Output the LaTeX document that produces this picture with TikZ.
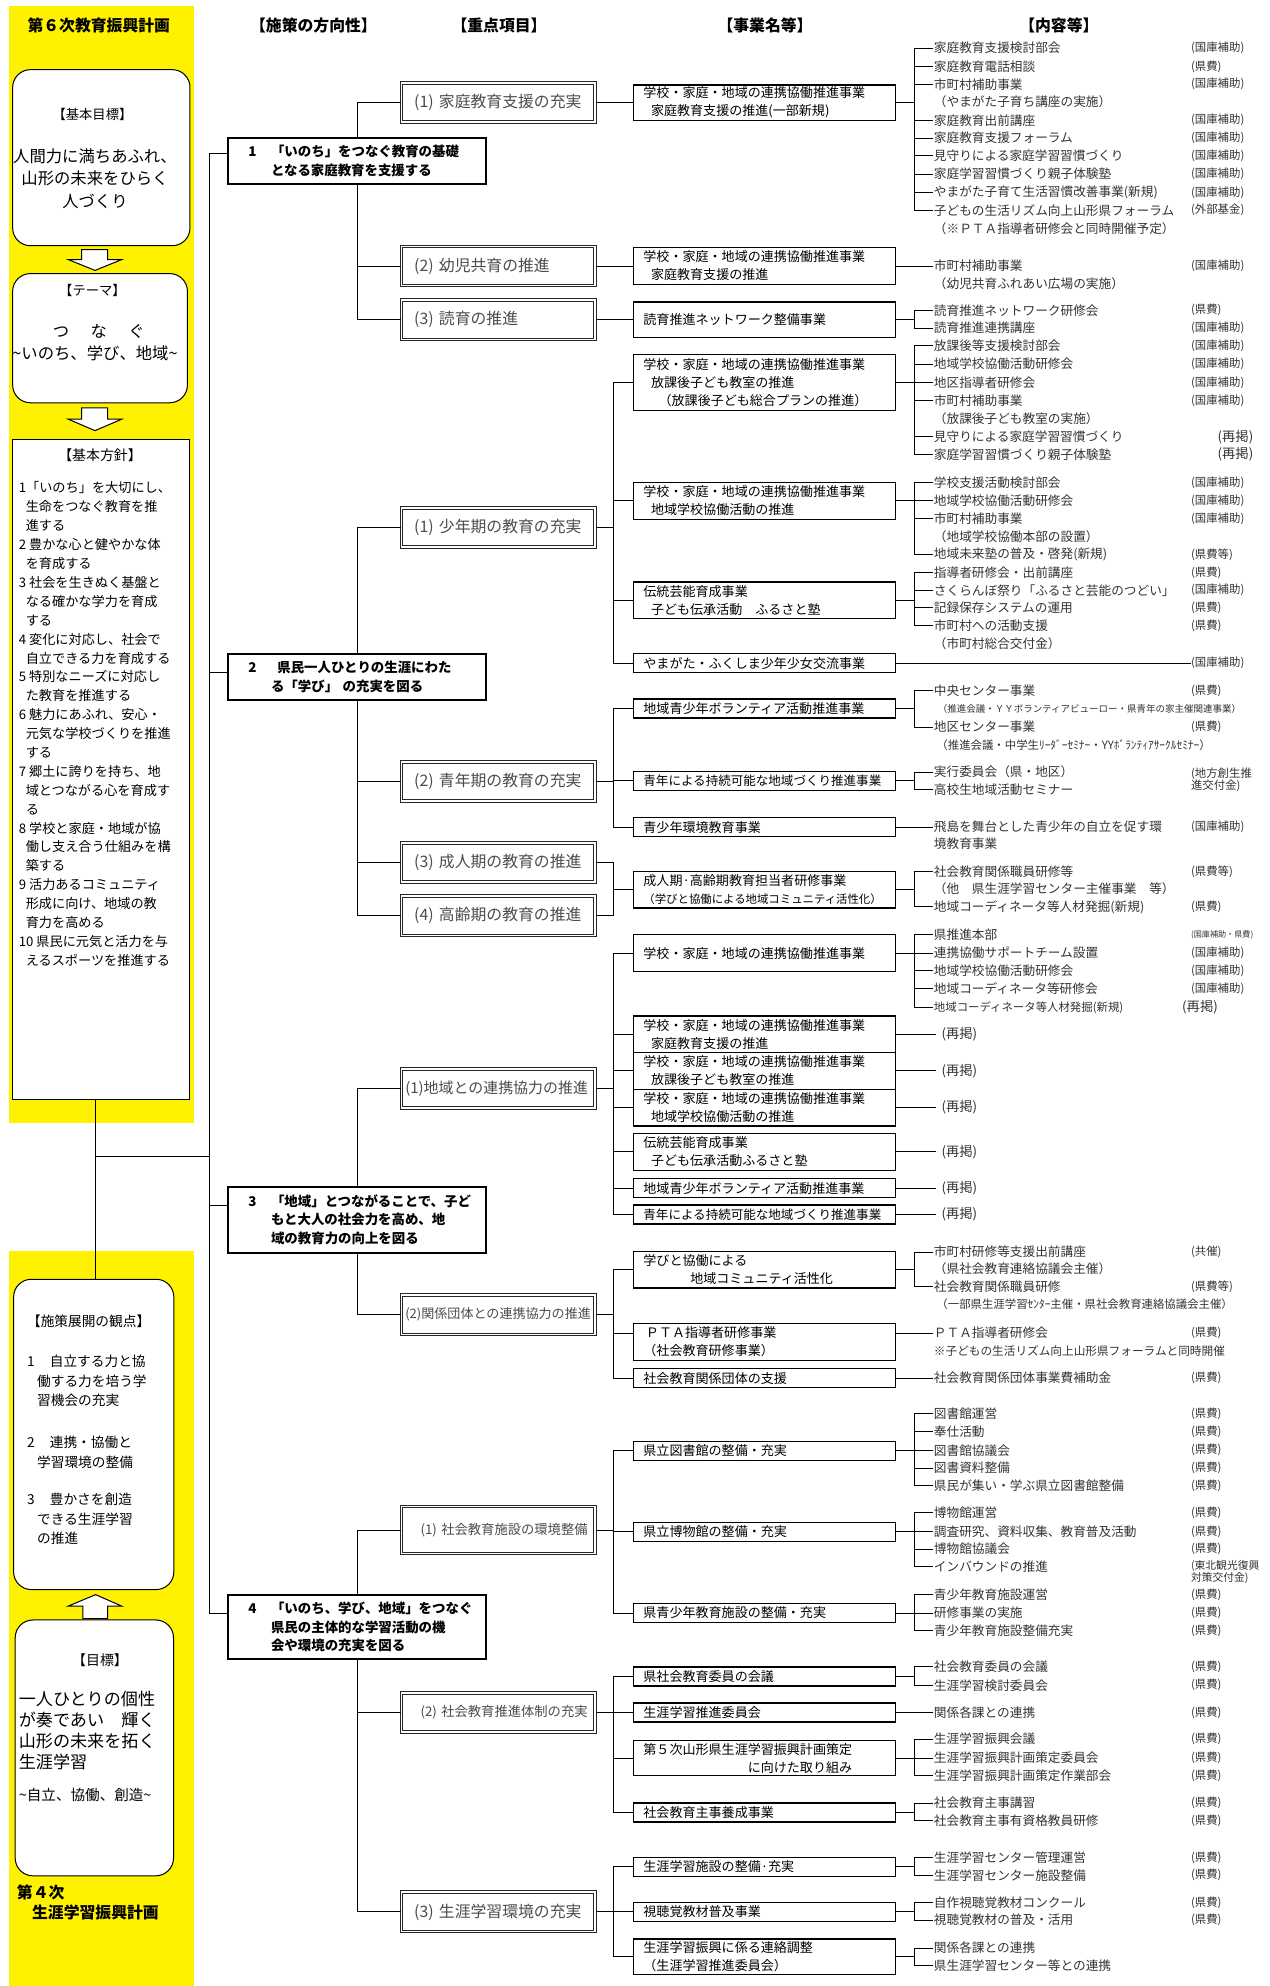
\documentclass[tikz,border=0pt]{standalone}
\usepackage{fontspec}
\setmainfont{Noto Sans CJK JP}

\begin{document}
\begin{tikzpicture}[x=1pt,y=-1pt,line width=0.75pt,
    every node/.style={inner sep=0pt},
    head/.style={font=\fontsize{12.5}{14}\selectfont\bfseries},
    panel/.style={draw,line width=0.8pt,fill=white},
    arrowbox/.style={draw,line width=0.8pt,fill=white},
    dirbox/.style={draw,line width=1.6pt,fill=white,minimum width=204pt,
      text width=172pt,inner xsep=16pt,align=left,
      font=\fontsize{10.6}{14.5}\selectfont\bfseries},
    pribox/.style={draw=black!85,line width=0.8pt,double=white,
      double distance=1.3pt,fill=white,minimum width=153pt,minimum height=31pt,
      text width=133pt,inner xsep=10pt,align=left,text=black!70,
      font=\fontsize{12.5}{14}\selectfont},
    evbox/.style={draw,line width=1.1pt,fill=white,minimum width=207pt,
      minimum height=15pt,text width=191pt,inner xsep=8pt,align=left,
      font=\fontsize{10.3}{14.2}\selectfont},
    item/.style={anchor=west,text=black!80,font=\fontsize{10}{12}\selectfont},
    fund/.style={anchor=west,text=black!80,align=left,
      font=\fontsize{9}{9.5}\selectfont},
  ]
  \useasboundingbox (0,0) rectangle (1002,1568);
  \fill[yellow] (7,5) rectangle (153,887);
  \fill[yellow] (7,988) rectangle (153,1568);
  %
  \node[head] (h1) at (247.5,20) {【施策の方向性】};
  \node[head] (h2) at (394,20) {【重点項目】};
  \node[head] (h3) at (604,20) {【事業名等】};
  \node[head] (h4) at (836,20) {【内容等】};
  %
  % left column
  \node[head] (k6) at (78,20) {第６次教育振興計画};
  \node[panel,rounded corners=14pt,minimum width=140pt,minimum height=139pt] (g1) at (80,124.5) {};
  \node[font=\fontsize{10.5}{12}\selectfont] (g1a) at (73,90) {【基本目標】};
  \node[align=center,font=\fontsize{12.9}{18}\selectfont] (g1b) at (75,141) {人間力に満ちあふれ、\\山形の未来をひらく\\人づくり};
  \draw[arrowbox] (64.5,197) -- (85,197) -- (85,205) -- (96,205) -- (75,213.5) -- (54,205) -- (64.5,205) -- cycle;
  \node[panel,rounded corners=14pt,minimum width=138pt,minimum height=102pt] (g2) at (79,267) {};
  \node[font=\fontsize{10.5}{12}\selectfont] (g2a) at (73,229.5) {【テーマ】};
  \node[font=\fontsize{12.9}{14}\selectfont] (g2b) at (78,262) {つ\hspace{17pt}な\hspace{17pt}ぐ};
  \node[font=\fontsize{12.9}{14}\selectfont] (g2c) at (75,279) {\textasciitilde いのち、学び、地域\textasciitilde};
  \draw[arrowbox] (64.5,322) -- (85,322) -- (85,331) -- (96,331) -- (75,340) -- (54,331) -- (64.5,331) -- cycle;
  \node[panel,minimum width=140pt,minimum height=521pt] (g3) at (80,607.5) {};
  \node[font=\fontsize{11}{12}\selectfont] (g3a) at (79,359) {【基本方針】};
  \node[anchor=north west,align=left,font=\fontsize{10.4}{14.92}\selectfont] (g3b) at (14.5,380) {1「いのち」を大切にし、\\\hspace*{5.5pt}生命をつなぐ教育を推\\\hspace*{5.5pt}進する\\2 豊かな心と健やかな体\\\hspace*{5.5pt}を育成する\\3 社会を生きぬく基盤と\\\hspace*{5.5pt}なる確かな学力を育成\\\hspace*{5.5pt}する\\4 変化に対応し、社会で\\\hspace*{5.5pt}自立できる力を育成する\\5 特別なニーズに対応し\\\hspace*{5.5pt}た教育を推進する\\6 魅力にあふれ、安心・\\\hspace*{5.5pt}元気な学校づくりを推進\\\hspace*{5.5pt}する\\7 郷土に誇りを持ち、地\\\hspace*{5.5pt}域とつながる心を育成す\\\hspace*{5.5pt}る\\8 学校と家庭・地域が協\\\hspace*{5.5pt}働し支え合う仕組みを構\\\hspace*{5.5pt}築する\\9 活力あるコミュニティ\\\hspace*{5.5pt}形成に向け、地域の教\\\hspace*{5.5pt}育力を高める\\10 県民に元気と活力を与\\\hspace*{5.5pt}えるスポーツを推進する};
  \node[panel,rounded corners=14pt,minimum width=126.5pt,minimum height=245pt] (g4) at (74,1132.5) {};
  \node[anchor=north west,align=left,font=\fontsize{10.8}{15.5}\selectfont] (g4a) at (21,1038) {【施策展開の観点】\\[16pt]1\hspace{12pt}自立する力と協\\\hspace*{8pt}働する力を培う学\\\hspace*{8pt}習機会の充実\\[17.5pt]2\hspace{12pt}連携・協働と\\\hspace*{8pt}学習環境の整備\\[14pt]3\hspace{12pt}豊かさを創造\\\hspace*{8pt}できる生涯学習\\\hspace*{8pt}の推進};
  \draw[arrowbox] (65.5,1278) -- (85,1278) -- (85,1268) -- (96,1268) -- (75.5,1259) -- (54,1268) -- (65.5,1268) -- cycle;
  \node[panel,rounded corners=14pt,minimum width=125pt,minimum height=202pt] (g5) at (74.5,1380) {};
  \node[font=\fontsize{11}{12}\selectfont] (g5a) at (79,1311) {【目標】};
  \node[anchor=west,align=left,font=\fontsize{13.5}{16.5}\selectfont] (g5b) at (14.5,1366.5) {一人ひとりの個性\\が奏であい　輝く\\山形の未来を拓く\\生涯学習};
  \node[anchor=west,font=\fontsize{11.5}{12}\selectfont] (g5c) at (14.5,1417) {\textasciitilde 自立、協働、創造\textasciitilde};
  \node[head,anchor=west] (k4a) at (13,1494) {第４次};
  \node[head,anchor=west] (k4b) at (25,1510) {生涯学習振興計画};
  %
  % 施策の方向性
  \node[dirbox,minimum height=36pt] (d1) at (282,127) {\makebox[18pt][l]{1}\parbox[t]{154pt}{「いのち」をつなぐ教育の基礎\\となる家庭教育を支援する}};
  \node[dirbox,minimum height=37pt] (d2) at (282,534.5) {\makebox[18pt][l]{2}\parbox[t]{154pt}{\hspace*{5pt}県民一人ひとりの生涯にわた\\る「学び」 の充実を図る}};
  \node[dirbox,minimum height=52pt] (d3) at (282,963) {\makebox[18pt][l]{3}\parbox[t]{154pt}{「地域」とつながることで、子ど\\もと大人の社会力を高め、地\\域の教育力の向上を図る}};
  \node[dirbox,minimum height=51pt] (d4) at (282,1284.5) {\makebox[18pt][l]{4}\parbox[t]{154pt}{「いのち、学び、地域」をつなぐ\\県民の主体的な学習活動の機\\会や環境の充実を図る}};
  \coordinate (t1) at (165,121);
  \coordinate (t2) at (165,531);
  \coordinate (t3) at (165,952);
  \coordinate (t4) at (165,1274);
  \coordinate (tl) at (75,913);
  \draw (t1) -- (t4);
  \foreach \n in {1,...,4}
    \draw (t\n) -- (t\n -| d\n.west);
  \draw (tl |- g3.south) -- (tl |- g4.north);
  \draw (tl) -- (tl -| t1);
  %
  % 重点項目
  \node[pribox] (p11) at (393.5,81) {(1) 家庭教育支援の充実};
  \node[pribox] (p12) at (393.5,210) {(2) 幼児共育の推進};
  \node[pribox] (p13) at (393.5,252.5) {(3) 読育の推進};
  \node[pribox] (p21) at (393.5,416.5) {(1) 少年期の教育の充実};
  \node[pribox] (p22) at (393.5,617) {(2) 青年期の教育の充実};
  \node[pribox] (p23) at (393.5,681) {(3) 成人期の教育の推進};
  \node[pribox] (p24) at (393.5,723) {(4) 高齢期の教育の推進};
  \node[pribox,inner xsep=3pt,text width=147pt,font=\fontsize{11.8}{13}\selectfont] (p31) at (393.5,859.5) {(1)地域との連携協力の推進};
  \node[pribox,inner xsep=3pt,text width=147pt,font=\fontsize{10.3}{12}\selectfont] (p32) at (393.5,1038) {(2)関係団体との連携協力の推進};
  \node[pribox,inner xsep=15pt,text width=123pt,minimum height=37pt,font=\fontsize{10.5}{12}\selectfont] (p41) at (393.5,1208) {\mbox{(1) 社会教育施設の環境整備}};
  \node[pribox,inner xsep=15pt,text width=123pt,font=\fontsize{10.5}{12}\selectfont] (p42) at (393.5,1352) {\mbox{(2) 社会教育推進体制の充実}};
  \node[pribox] (p43) at (393.5,1509.5) {(3) 生涯学習環境の充実};
  \draw (p11.west) -| (d1.north);
  \draw (d1.south) |- (p13.west);
  \draw (d1.south |- p12.west) -- (p12.west);
  \draw (p21.west) -| (d2.north);
  \draw (d2.south) |- (p24.west);
  \draw (d2.south |- p22.west) -- (p22.west);
  \draw (d2.south |- p23.west) -- (p23.west);
  \draw (p31.west) -| (d3.north);
  \draw (d3.south) |- (p32.west);
  \draw (p41.west) -| (d4.north);
  \draw (d4.south) |- (p43.west);
  \draw (d4.south |- p42.west) -- (p42.west);
  %
  % 事業名等
  \node[evbox,minimum height=28pt] (e1) at (603.5,81) {学校・家庭・地域の連携協働推進事業\\\hspace*{6pt}家庭教育支援の推進(一部新規)};
  \node[evbox,minimum height=29pt] (e2) at (603.5,210) {学校・家庭・地域の連携協働推進事業\\\hspace*{6pt}家庭教育支援の推進};
  \node[evbox,minimum height=28pt] (e3) at (603.5,252.5) {読育推進ネットワーク整備事業};
  \node[evbox,minimum height=44pt] (e4) at (603.5,302) {学校・家庭・地域の連携協働推進事業\\\hspace*{6pt}放課後子ども教室の推進\\\hspace*{12pt}（放課後子ども総合プランの推進）};
  \node[evbox,minimum height=29pt] (e5) at (603.5,395.5) {学校・家庭・地域の連携協働推進事業\\\hspace*{6pt}地域学校協働活動の推進};
  \node[evbox,minimum height=29pt] (e6) at (603.5,474) {伝統芸能育成事業\\\hspace*{6pt}子ども伝承活動　ふるさと塾};
  \node[evbox] (e7) at (603.5,523.5) {やまがた・ふくしま少年少女交流事業};
  \node[evbox] (e8) at (603.5,559.5) {地域青少年ボランティア活動推進事業};
  \node[evbox,font=\fontsize{9.9}{12}\selectfont] (e9) at (603.5,616.5) {青年による持続可能な地域づくり推進事業};
  \node[evbox] (e10) at (603.5,653) {青少年環境教育事業};
  \node[evbox,minimum height=29pt] (e11) at (603.5,702.5) {成人期·高齢期教育担当者研修事業\\{\fontsize{9}{14.2}\selectfont （学びと協働による地域コミュニティ活性化）}};
  \node[evbox,minimum height=29pt] (e12) at (603.5,752.5) {学校・家庭・地域の連携協働推進事業};
  \node[evbox,minimum height=29pt] (e13) at (603.5,816.5) {学校・家庭・地域の連携協働推進事業\\\hspace*{6pt}家庭教育支援の推進};
  \node[evbox,minimum height=29pt] (e14) at (603.5,845.5) {学校・家庭・地域の連携協働推進事業\\\hspace*{6pt}放課後子ども教室の推進};
  \node[evbox,minimum height=29pt] (e15) at (603.5,874.5) {学校・家庭・地域の連携協働推進事業\\\hspace*{6pt}地域学校協働活動の推進};
  \node[evbox,minimum height=29pt] (e16) at (603.5,909.5) {伝統芸能育成事業\\\hspace*{6pt}子ども伝承活動ふるさと塾};
  \node[evbox] (e17) at (603.5,938) {地域青少年ボランティア活動推進事業};
  \node[evbox,font=\fontsize{9.9}{12}\selectfont] (e18) at (603.5,959) {青年による持続可能な地域づくり推進事業};
  \node[evbox,minimum height=29pt] (e19) at (603.5,1002.5) {学びと協働による\\\hspace*{37pt}地域コミュニティ活性化};
  \node[evbox,minimum height=29pt] (e20) at (603.5,1059.5) {\hspace*{2pt}ＰＴＡ指導者研修事業\\（社会教育研修事業）};
  \node[evbox] (e21) at (603.5,1088) {社会教育関係団体の支援};
  \node[evbox] (e22) at (603.5,1145.5) {県立図書館の整備・充実};
  \node[evbox] (e23) at (603.5,1209.5) {県立博物館の整備・充実};
  \node[evbox] (e24) at (603.5,1273.5) {県青少年教育施設の整備・充実};
  \node[evbox] (e25) at (603.5,1323.5) {県社会教育委員の会議};
  \node[evbox] (e26) at (603.5,1352) {生涯学習推進委員会};
  \node[evbox,minimum height=28pt] (e27) at (603.5,1388) {第５次山形県生涯学習振興計画策定\\\hspace*{82.4pt}に向けた取り組み};
  \node[evbox] (e28) at (603.5,1431) {社会教育主事養成事業};
  \node[evbox] (e29) at (603.5,1474) {生涯学習施設の整備·充実};
  \node[evbox] (e30) at (603.5,1509.5) {視聴覚教材普及事業};
  \node[evbox,minimum height=28pt] (e31) at (603.5,1545) {生涯学習振興に係る連絡調整\\（生涯学習推進委員会）};
  % 重点項目 -> 事業名等
  \draw (p11) -- (e1);
  \draw (p12) -- (e2);
  \draw (p13) -- (e3);
  \coordinate (q21) at (484,416.5);
  \draw (p21) -- (q21);
  \draw (q21 |- e4.west) -- (q21 |- e7.west);
  \foreach \n in {4,...,7}
    \draw (q21 |- e\n.west) -- (e\n.west);
  \coordinate (q22) at (484,617);
  \draw (p22) -- (q22);
  \draw (q22 |- e8.west) -- (q22 |- e10.west);
  \foreach \n in {8,9,10}
    \draw (q22 |- e\n.west) -- (e\n.west);
  \coordinate (q23) at (484,681);
  \coordinate (q24) at (484,723);
  \draw (p23) -- (q23) -- (q24) -- (p24);
  \draw (q23 |- e11.west) -- (e11.west);
  \coordinate (q31) at (484,859.5);
  \draw (p31) -- (q31);
  \draw (q31 |- e12.west) -- (q31 |- e18.west);
  \foreach \n in {12,...,18}
    \draw (q31 |- e\n.west) -- (e\n.west);
  \coordinate (q32) at (484,1038);
  \draw (p32) -- (q32);
  \draw (q32 |- e19.west) -- (q32 |- e21.west);
  \draw (q32 |- e19.west) -- (e19.west);
  \draw ([yshift=7pt]e20.west -| q32) -- ([yshift=7pt]e20.west);
  \draw (q32 |- e21.west) -- (e21.west);
  \coordinate (q41) at (484,1208);
  \draw (p41) -- (q41);
  \draw (q41 |- e22.west) -- (q41 |- e24.west);
  \foreach \n in {22,23,24}
    \draw (q41 |- e\n.west) -- (e\n.west);
  \coordinate (q42) at (484,1352);
  \draw (p42) -- (q42);
  \draw (q42 |- e25.west) -- (q42 |- e28.west);
  \foreach \n in {25,...,28}
    \draw (q42 |- e\n.west) -- (e\n.west);
  \coordinate (q43) at (484,1509.5);
  \draw (p43) -- (q43);
  \draw (q43 |- e29.west) -- (q43 |- e31.west);
  \foreach \n in {29,30,31}
    \draw (q43 |- e\n.west) -- (e\n.west);
  %
  % 内容等
  % -- e1
  \coordinate (b1) at (722,81);
  \draw (e1) -- (b1);
  \foreach \i/\y/\txt in {1/38/家庭教育支援検討部会,2/52.5/家庭教育電話相談,3/66.5/市町村補助事業,4/80.5/（やまがた子育ち講座の実施）,5/95/家庭教育出前講座,6/109/家庭教育支援フォーラム,7/123/見守りによる家庭学習習慣づくり,8/137.5/家庭学習習慣づくり親子体験塾,9/152/やまがた子育て生活習慣改善事業(新規),10/166/子どもの生活リズム向上山形県フォーラム,11/180.5/（※ＰＴＡ指導者研修会と同時開催予定）}
    \node[item] (c1-\i) at (737,\y) {\txt};
  \foreach \i/\y/\txt in {1/38/(国庫補助),2/52.5/(県費),3/66.5/(国庫補助),5/95/(国庫補助),6/109/(国庫補助),7/123/(国庫補助),8/137.5/(国庫補助),9/152/(国庫補助),10/166/(外部基金)}
    \node[fund] (f1-\i) at (940,\y) {\txt};
  \draw (b1 |- c1-1.west) -- (b1 |- c1-10.west);
  \foreach \i in {1,2,3,5,6,7,8,9,10}
    \draw (b1 |- c1-\i.west) -- (c1-\i.west);
  % -- e2
  \node[item] (c2-1) at (737,210) {市町村補助事業};
  \node[item] (c2-2) at (737,224) {（幼児共育ふれあい広場の実施）};
  \node[fund] (f2-1) at (940,210) {(国庫補助)};
  \draw (e2) -- (c2-1);
  % -- e3
  \coordinate (b3) at (722,252.5);
  \draw (e3) -- (b3);
  \node[item] (c3-1) at (737,245) {読育推進ネットワーク研修会};
  \node[item] (c3-2) at (737,259) {読育推進連携講座};
  \node[fund] (f3-1) at (940,245) {(県費)};
  \node[fund] (f3-2) at (940,259) {(国庫補助)};
  \draw (b3 |- c3-1.west) -- (b3 |- c3-2.west);
  \foreach \i in {1,2}
    \draw (b3 |- c3-\i.west) -- (c3-\i.west);
  % -- e4
  \coordinate (b4) at (722,302);
  \draw (e4) -- (b4);
  \foreach \i/\y/\txt in {1/273/放課後等支援検討部会,2/287.5/地域学校協働活動研修会,3/302/地区指導者研修会,4/316.5/市町村補助事業,5/330.5/（放課後子ども教室の実施）,6/345/見守りによる家庭学習習慣づくり,7/359/家庭学習習慣づくり親子体験塾}
    \node[item] (c4-\i) at (737,\y) {\txt};
  \foreach \i/\y in {1/273,2/287.5,3/302,4/316.5}
    \node[fund] (f4-\i) at (940,\y) {(国庫補助)};
  \foreach \i/\y in {6/345,7/359}
    \node[fund,font=\fontsize{10.5}{12}\selectfont] (f4-\i) at (961,\y) {(再掲)};
  \draw (b4 |- c4-1.west) -- (b4 |- c4-7.west);
  \foreach \i in {1,2,3,4,6,7}
    \draw (b4 |- c4-\i.west) -- (c4-\i.west);
  % -- e5
  \coordinate (b5) at (722,395.5);
  \draw (e5) -- (b5);
  \foreach \i/\y/\txt in {1/381/学校支援活動検討部会,2/395.5/地域学校協働活動研修会,3/409.5/市町村補助事業,4/424/（地域学校協働本部の設置）,5/438/地域未来塾の普及・啓発(新規)}
    \node[item] (c5-\i) at (737,\y) {\txt};
  \foreach \i/\y/\txt in {1/381/(国庫補助),2/395.5/(国庫補助),3/409.5/(国庫補助),5/438/(県費等)}
    \node[fund] (f5-\i) at (940,\y) {\txt};
  \draw (b5 |- c5-1.west) -- (b5 |- c5-5.west);
  \foreach \i in {1,2,3,5}
    \draw (b5 |- c5-\i.west) -- (c5-\i.west);
  % -- e6
  \coordinate (b6) at (722,474);
  \draw (e6) -- (b6);
  \foreach \i/\y/\txt in {1/452/指導者研修会・出前講座,2/466/さくらんぼ祭り「ふるさと芸能のつどい」,3/480/記録保存システムの運用,4/494/市町村への活動支援,5/508/（市町村総合交付金）}
    \node[item] (c6-\i) at (737,\y) {\txt};
  \foreach \i/\y/\txt in {1/452/(県費),2/466/(国庫補助),3/480/(県費),4/494/(県費)}
    \node[fund] (f6-\i) at (940,\y) {\txt};
  \draw (b6 |- c6-1.west) -- (b6 |- c6-4.west);
  \foreach \i in {1,...,4}
    \draw (b6 |- c6-\i.west) -- (c6-\i.west);
  % -- e7
  \node[fund] (f7-1) at (940,523.5) {(国庫補助)};
  \draw (e7) -- (f7-1);
  % -- e8
  \coordinate (b8) at (722,559.5);
  \draw (e8) -- (b8);
  \node[item] (c8-1) at (737,545.5) {中央センター事業};
  \node[item,font=\fontsize{7.5}{9}\selectfont] (c8-2) at (740,559.5) {（推進会議・ＹＹボランティアビューロー・県青年の家主催関連事業）};
  \node[item] (c8-3) at (737,574) {地区センター事業};
  \node[item,font=\fontsize{9}{10}\selectfont] (c8-4) at (739,588) {（推進会議・中学生ﾘｰﾀﾞｰｾﾐﾅｰ・YYﾎﾞﾗﾝﾃｨｱｻｰｸﾙｾﾐﾅｰ）};
  \node[fund] (f8-1) at (940,545.5) {(県費)};
  \node[fund] (f8-3) at (940,574) {(県費)};
  \draw (b8 |- c8-1.west) -- (b8 |- c8-3.west);
  \foreach \i in {1,3}
    \draw (b8 |- c8-\i.west) -- (c8-\i.west);
  % -- e9
  \coordinate (b9) at (722,616.5);
  \draw (e9) -- (b9);
  \node[item] (c9-1) at (737,609.5) {実行委員会（県・地区）};
  \node[item] (c9-2) at (737,623.5) {高校生地域活動セミナー};
  \node[fund] (f9-1) at (940,616) {(地方創生推\\進交付金)};
  \draw (b9 |- c9-1.west) -- (b9 |- c9-2.west);
  \foreach \i in {1,2}
    \draw (b9 |- c9-\i.west) -- (c9-\i.west);
  % -- e10
  \node[item] (c10-1) at (737,653) {飛島を舞台とした青少年の自立を促す環};
  \node[item] (c10-2) at (737,666) {境教育事業};
  \node[fund] (f10-1) at (940,653) {(国庫補助)};
  \draw (e10) -- (c10-1);
  % -- e11
  \coordinate (b11) at (722,702.5);
  \draw (e11) -- (b11);
  \node[item] (c11-1) at (737,688) {社会教育関係職員研修等};
  \node[item] (c11-2) at (737,701.5) {（他　県生涯学習センター主催事業　等）};
  \node[item] (c11-3) at (737,716) {地域コーディネータ等人材発掘(新規)};
  \node[fund] (f11-1) at (940,688) {(県費等)};
  \node[fund] (f11-3) at (940,716) {(県費)};
  \draw (b11 |- c11-1.west) -- (b11 |- c11-3.west);
  \foreach \i in {1,3}
    \draw (b11 |- c11-\i.west) -- (c11-\i.west);
  % -- e12
  \coordinate (b12) at (722,752.5);
  \draw (e12) -- (b12);
  \foreach \i/\y/\txt in {1/738/県推進本部,2/752.5/連携協働サポートチーム設置,3/766.5/地域学校協働活動研修会,4/780.5/地域コーディネータ等研修会}
    \node[item] (c12-\i) at (737,\y) {\txt};
  \node[item,font=\fontsize{9}{10}\selectfont] (c12-5) at (737,795.5) {地域コーディネータ等人材発掘(新規)};
  \node[fund,font=\fontsize{6.4}{7}\selectfont] (f12-1) at (940,738) {(国庫補助・県費)};
  \foreach \i/\y in {2/752.5,3/766.5,4/780.5}
    \node[fund] (f12-\i) at (940,\y) {(国庫補助)};
  \node[fund,font=\fontsize{10.5}{12}\selectfont] (f12-5) at (933,795.5) {(再掲)};
  \draw (b12 |- c12-1.west) -- (b12 |- c12-5.west);
  \foreach \i in {1,...,5}
    \draw (b12 |- c12-\i.west) -- (c12-\i.west);
  % -- e13 ... e18
  \foreach \n in {13,...,18}{
    \node[item,font=\fontsize{10.5}{12}\selectfont,inner xsep=4pt] (r\n) at (739,0 |- e\n.west) {(再掲)};
    \draw (e\n) -- (r\n);
  }
  % -- e19
  \coordinate (b19) at (722,1002.5);
  \draw (e19) -- (b19);
  \node[item] (c19-1) at (737,988.5) {市町村研修等支援出前講座};
  \node[item] (c19-2) at (737,1001.5) {（県社会教育連絡協議会主催）};
  \node[item] (c19-3) at (737,1016) {社会教育関係職員研修};
  \node[item,font=\fontsize{9}{10}\selectfont] (c19-4) at (739,1030) {（一部県生涯学習ｾﾝﾀｰ主催・県社会教育連絡協議会主催）};
  \node[fund] (f19-1) at (940,988.5) {(共催)};
  \node[fund] (f19-3) at (940,1016) {(県費等)};
  \draw (b19 |- c19-1.west) -- (b19 |- c19-3.west);
  \foreach \i in {1,3}
    \draw (b19 |- c19-\i.west) -- (c19-\i.west);
  % -- e20
  \node[item] (c20-1) at (737,1052.5) {ＰＴＡ指導者研修会};
  \node[item,font=\fontsize{9.2}{10}\selectfont] (c20-2) at (737,1066.5) {※子どもの生活リズム向上山形県フォーラムと同時開催};
  \node[fund] (f20-1) at (940,1052.5) {(県費)};
  \draw ([yshift=7pt]e20.east) -- (c20-1.west);
  % -- e21
  \node[item] (c21-1) at (737,1088) {社会教育関係団体事業費補助金};
  \node[fund] (f21-1) at (940,1088) {(県費)};
  \draw (e21) -- (c21-1);
  % -- e22
  \coordinate (b22) at (722,1145.5);
  \draw (e22) -- (b22);
  \foreach \i/\y/\txt in {1/1116/図書館運営,2/1130.5/奉仕活動,3/1145/図書館協議会,4/1159/図書資料整備,5/1173/県民が集い・学ぶ県立図書館整備}{
    \node[item] (c22-\i) at (737,\y) {\txt};
    \node[fund] (f22-\i) at (940,\y) {(県費)};
    \draw (b22 |- c22-\i.west) -- (c22-\i.west);
  }
  \draw (b22 |- c22-1.west) -- (b22 |- c22-5.west);
  % -- e23
  \coordinate (b23) at (722,1209.5);
  \draw (e23) -- (b23);
  \foreach \i/\y/\txt in {1/1194.5/博物館運営,2/1209.5/調査研究、資料収集、教育普及活動,3/1223/博物館協議会,4/1237/インバウンドの推進}{
    \node[item] (c23-\i) at (737,\y) {\txt};
    \draw (b23 |- c23-\i.west) -- (c23-\i.west);
  }
  \foreach \i/\y in {1/1194.5,2/1209.5,3/1223}
    \node[fund] (f23-\i) at (940,\y) {(県費)};
  \node[fund,font=\fontsize{8.5}{9.5}\selectfont] (f23-4) at (940,1241.5) {(東北観光復興\\対策交付金)};
  \draw (b23 |- c23-1.west) -- (b23 |- c23-4.west);
  % -- e24
  \coordinate (b24) at (722,1273.5);
  \draw (e24) -- (b24);
  \foreach \i/\y/\txt in {1/1259/青少年教育施設運営,2/1273.5/研修事業の実施,3/1287.5/青少年教育施設整備充実}{
    \node[item] (c24-\i) at (737,\y) {\txt};
    \node[fund] (f24-\i) at (940,\y) {(県費)};
    \draw (b24 |- c24-\i.west) -- (c24-\i.west);
  }
  \draw (b24 |- c24-1.west) -- (b24 |- c24-3.west);
  % -- e25
  \coordinate (b25) at (722,1323.5);
  \draw (e25) -- (b25);
  \foreach \i/\y/\txt in {1/1316/社会教育委員の会議,2/1330.5/生涯学習検討委員会}{
    \node[item] (c25-\i) at (737,\y) {\txt};
    \node[fund] (f25-\i) at (940,\y) {(県費)};
    \draw (b25 |- c25-\i.west) -- (c25-\i.west);
  }
  \draw (b25 |- c25-1.west) -- (b25 |- c25-2.west);
  % -- e26
  \node[item] (c26-1) at (737,1352) {関係各課との連携};
  \node[fund] (f26-1) at (940,1352) {(県費)};
  \draw (e26) -- (c26-1);
  % -- e27
  \coordinate (b27) at (722,1388);
  \draw (e27) -- (b27);
  \foreach \i/\y/\txt in {1/1373/生涯学習振興会議,2/1388/生涯学習振興計画策定委員会,3/1402/生涯学習振興計画策定作業部会}{
    \node[item] (c27-\i) at (737,\y) {\txt};
    \node[fund] (f27-\i) at (940,\y) {(県費)};
    \draw (b27 |- c27-\i.west) -- (c27-\i.west);
  }
  \draw (b27 |- c27-1.west) -- (b27 |- c27-3.west);
  % -- e28
  \coordinate (b28) at (722,1431);
  \draw (e28) -- (b28);
  \foreach \i/\y/\txt in {1/1423.5/社会教育主事講習,2/1437.5/社会教育主事有資格教員研修}{
    \node[item] (c28-\i) at (737,\y) {\txt};
    \node[fund] (f28-\i) at (940,\y) {(県費)};
    \draw (b28 |- c28-\i.west) -- (c28-\i.west);
  }
  \draw (b28 |- c28-1.west) -- (b28 |- c28-2.west);
  % -- e29
  \coordinate (b29) at (722,1474);
  \draw (e29) -- (b29);
  \foreach \i/\y/\txt in {1/1466.5/生涯学習センター管理運営,2/1480.5/生涯学習センター施設整備}{
    \node[item] (c29-\i) at (737,\y) {\txt};
    \node[fund] (f29-\i) at (940,\y) {(県費)};
    \draw (b29 |- c29-\i.west) -- (c29-\i.west);
  }
  \draw (b29 |- c29-1.west) -- (b29 |- c29-2.west);
  % -- e30
  \coordinate (b30) at (722,1509.5);
  \draw (e30) -- (b30);
  \foreach \i/\y/\txt in {1/1502/自作視聴覚教材コンクール,2/1516/視聴覚教材の普及・活用}{
    \node[item] (c30-\i) at (737,\y) {\txt};
    \node[fund] (f30-\i) at (940,\y) {(県費)};
    \draw (b30 |- c30-\i.west) -- (c30-\i.west);
  }
  \draw (b30 |- c30-1.west) -- (b30 |- c30-2.west);
  % -- e31
  \coordinate (b31) at (722,1545);
  \draw (e31) -- (b31);
  \foreach \i/\y/\txt in {1/1538/関係各課との連携,2/1552/県生涯学習センター等との連携}{
    \node[item] (c31-\i) at (737,\y) {\txt};
    \draw (b31 |- c31-\i.west) -- (c31-\i.west);
  }
  \draw (b31 |- c31-1.west) -- (b31 |- c31-2.west);
\end{tikzpicture}
\end{document}
